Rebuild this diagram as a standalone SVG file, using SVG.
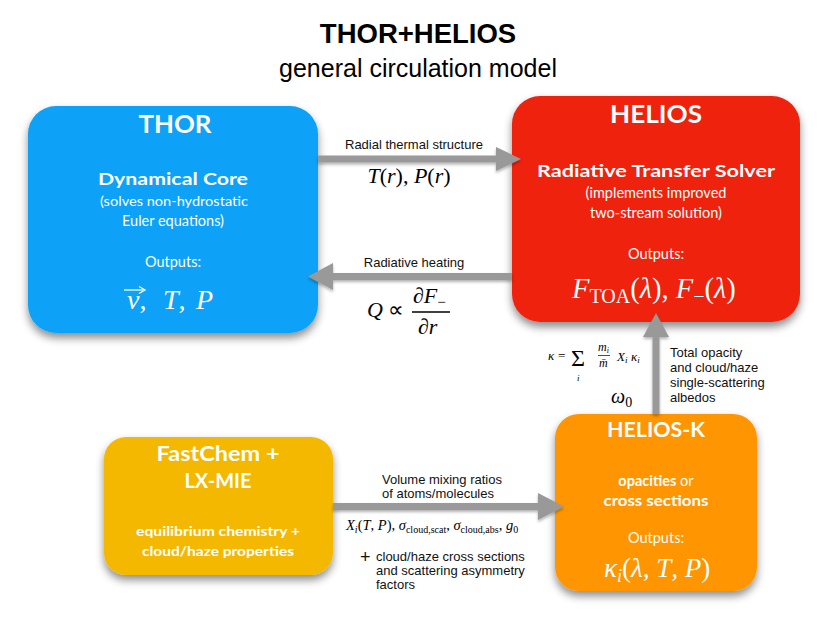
<svg xmlns="http://www.w3.org/2000/svg" width="830" height="623" viewBox="0 0 830 623">
<defs>
<filter id="sh" x="-20%" y="-20%" width="140%" height="150%">
<feDropShadow dx="0" dy="5" stdDeviation="4" flood-color="#000" flood-opacity="0.45"/>
</filter>
<filter id="ash" x="-20%" y="-50%" width="140%" height="200%">
<feDropShadow dx="0" dy="2" stdDeviation="1.5" flood-color="#000" flood-opacity="0.3"/>
</filter>
<style>
.t{font-family:"Liberation Sans",Arial,sans-serif;fill:#000}
.h{font-family:Lato,"Open Sans",sans-serif;font-weight:bold;fill:#fff;text-anchor:middle}
.s{font-family:Lato,"Open Sans",sans-serif;fill:#fff;text-anchor:middle}
.m{font-family:"Liberation Serif","Times New Roman",serif}
.mw{font-family:"Liberation Serif","Times New Roman",serif;fill:#fff}
.lab{font-family:"Liberation Sans",Arial,sans-serif;font-size:13px;fill:#111}
.arr{fill:#999}
</style>
</defs>
<rect width="830" height="623" fill="#fff"/>

<g id="title">
<text class="t" x="418" y="43" font-size="27.5" font-weight="bold" text-anchor="middle">THOR+HELIOS</text>
<text class="t" x="418" y="77" font-size="25" text-anchor="middle">general circulation model</text>
</g>

<g id="thor">
<rect x="28" y="106" width="290" height="227" rx="28" fill="#0aa1f7" filter="url(#sh)"/>
<text class="h" x="175" y="133" font-size="24" textLength="73" lengthAdjust="spacingAndGlyphs">THOR</text>
<text class="h" x="173" y="185" font-size="17" textLength="150" lengthAdjust="spacingAndGlyphs">Dynamical Core</text>
<text class="s" x="174" y="206" font-size="14" textLength="148" lengthAdjust="spacingAndGlyphs">(solves non-hydrostatic</text>
<text class="s" x="173" y="226" font-size="14.5">Euler equations)</text>
<text class="s" x="173" y="267" font-size="14.5">Outputs:</text>
<g fill="#fff" stroke="#fff">
<line x1="124" y1="290" x2="143" y2="290" stroke-width="1.3"/>
<path d="M139,286.5 L145,290 L139,293.5" fill="none" stroke-width="1.3"/>
</g>
<text class="mw" y="309" font-size="28"><tspan x="127" font-style="italic">v</tspan><tspan>,</tspan><tspan x="163" font-style="italic">T</tspan><tspan>,</tspan><tspan x="196" font-style="italic">P</tspan></text>
</g>

<g id="helios">
<rect x="512" y="96" width="288" height="226" rx="28" fill="#ee2310" filter="url(#sh)"/>
<text class="h" x="656" y="123" font-size="24" textLength="92" lengthAdjust="spacingAndGlyphs">HELIOS</text>
<text class="h" x="656" y="177" font-size="17" textLength="238" lengthAdjust="spacingAndGlyphs">Radiative Transfer Solver</text>
<text class="s" x="656" y="198" font-size="14.5">(implements improved</text>
<text class="s" x="656" y="218" font-size="14.5">two-stream solution)</text>
<text class="s" x="656" y="259" font-size="14.5">Outputs:</text>
<text class="mw" x="572" y="298" font-size="28.5"><tspan font-style="italic">F</tspan><tspan font-size="20" dy="5">TOA</tspan><tspan dy="-5">(</tspan><tspan font-style="italic">λ</tspan><tspan>), </tspan><tspan font-style="italic">F</tspan><tspan font-size="20" dy="5">−</tspan><tspan dy="-5">(</tspan><tspan font-style="italic">λ</tspan><tspan>)</tspan></text>
</g>

<g id="fastchem">
<rect x="104" y="437" width="229" height="138" rx="22" fill="#f5b800" filter="url(#sh)"/>
<text class="h" x="218" y="461" font-size="20" textLength="123" lengthAdjust="spacingAndGlyphs">FastChem +</text>
<text class="h" x="218" y="488" font-size="20">LX-MIE</text>
<text class="h" x="218" y="536" font-size="13" textLength="164" lengthAdjust="spacingAndGlyphs">equilibrium chemistry +</text>
<text class="h" x="218" y="556" font-size="13" textLength="152" lengthAdjust="spacingAndGlyphs">cloud/haze properties</text>
</g>

<g id="heliosk">
<rect x="555" y="414" width="202" height="177" rx="24" fill="#ff9500" filter="url(#sh)"/>
<text class="h" x="656" y="437" font-size="21" textLength="98" lengthAdjust="spacingAndGlyphs">HELIOS-K</text>
<text class="s" x="656" y="486" font-size="14.5"><tspan font-weight="bold">opacities</tspan> or</text>
<text class="h" x="656" y="506" font-size="14.5" textLength="105" lengthAdjust="spacingAndGlyphs">cross sections</text>
<text class="s" x="656" y="543" font-size="14.5">Outputs:</text>
<text class="mw" x="604" y="577" font-size="27"><tspan font-style="italic">κ</tspan><tspan font-style="italic" font-size="18" dy="5">i</tspan><tspan dy="-5">(</tspan><tspan font-style="italic">λ</tspan><tspan>, </tspan><tspan font-style="italic">T</tspan><tspan>, </tspan><tspan font-style="italic">P</tspan><tspan>)</tspan></text>
</g>

<g id="connectors" filter="url(#ash)">
<polygon class="arr" points="318,155.5 496,155.5 496,147 521,159 496,171 496,162.5 318,162.5"/>
<polygon class="arr" points="512,273 333,273 333,263 308,276.5 333,290 333,280 512,280"/>
<polygon class="arr" points="652.5,414 652.5,337 643,337 656,313 669,337 659.5,337 659.5,414"/>
<polygon class="arr" points="333,503 538,503 538,493 564,506.5 538,520 538,510 333,510"/>
</g>

<g id="labels">
<text class="lab" x="414" y="149" text-anchor="middle">Radial thermal structure</text>
<text class="m" x="409" y="183" font-size="22" text-anchor="middle"><tspan font-style="italic">T</tspan>(<tspan font-style="italic">r</tspan>), <tspan font-style="italic">P</tspan>(<tspan font-style="italic">r</tspan>)</text>
<text class="lab" x="414" y="267" text-anchor="middle">Radiative heating</text>
<text class="m" x="367" y="317" font-size="22"><tspan font-style="italic">Q</tspan> ∝</text>
<text class="m" x="413" y="303" font-size="22"><tspan font-style="italic">∂F</tspan><tspan font-size="15" dy="4">−</tspan></text>
<line x1="412" y1="312" x2="450" y2="312" stroke="#000" stroke-width="1.3"/>
<text class="m" x="418" y="334" font-size="22" font-style="italic">∂r</text>

<text class="m" x="548" y="360" font-size="13" font-style="italic">κ</text>
<text class="m" x="558" y="360" font-size="13">=</text>
<text class="m" x="571" y="366" font-size="24">Σ</text>
<text class="m" x="577" y="381" font-size="9" font-style="italic">i</text>
<text class="m" x="598" y="351" font-size="12" font-style="italic">m<tspan font-size="8" dy="2">i</tspan></text>
<line x1="598" y1="355.5" x2="610" y2="355.5" stroke="#000" stroke-width="0.7"/>
<text class="m" x="599" y="367" font-size="12" font-style="italic">m̄</text>
<text class="m" x="617" y="361" font-size="13" font-style="italic">X<tspan font-size="9" dy="2">i</tspan></text>
<text class="m" x="631" y="361" font-size="13" font-style="italic">κ<tspan font-size="9" dy="2">i</tspan></text>
<text class="m" x="611" y="403" font-size="20" font-style="italic">ω<tspan font-style="normal" font-size="14" dy="4">0</tspan></text>
<text class="lab" x="670" y="357">Total opacity</text>
<text class="lab" x="670" y="372">and cloud/haze</text>
<text class="lab" x="670" y="387">single-scattering</text>
<text class="lab" x="670" y="402">albedos</text>

<text class="lab" x="382" y="484">Volume mixing ratios</text>
<text class="lab" x="382" y="498">of atoms/molecules</text>
<text class="m" x="346" y="530" font-size="14.5"><tspan font-style="italic">X</tspan><tspan font-style="italic" font-size="10" dy="3">i</tspan><tspan dy="-3">(</tspan><tspan font-style="italic">T</tspan>, <tspan font-style="italic">P</tspan>), <tspan font-style="italic">σ</tspan><tspan font-size="10" dy="3">cloud,scat</tspan><tspan dy="-3">, </tspan><tspan font-style="italic">σ</tspan><tspan font-size="10" dy="3">cloud,abs</tspan><tspan dy="-3">, </tspan><tspan font-style="italic">g</tspan><tspan font-size="10" dy="3">0</tspan></text>
<text class="lab" x="360" y="563" style="font-size:18px">+</text>
<text class="lab" x="376" y="561">cloud/haze cross sections</text>
<text class="lab" x="376" y="575">and scattering asymmetry</text>
<text class="lab" x="376" y="589">factors</text>
</g>
</svg>
